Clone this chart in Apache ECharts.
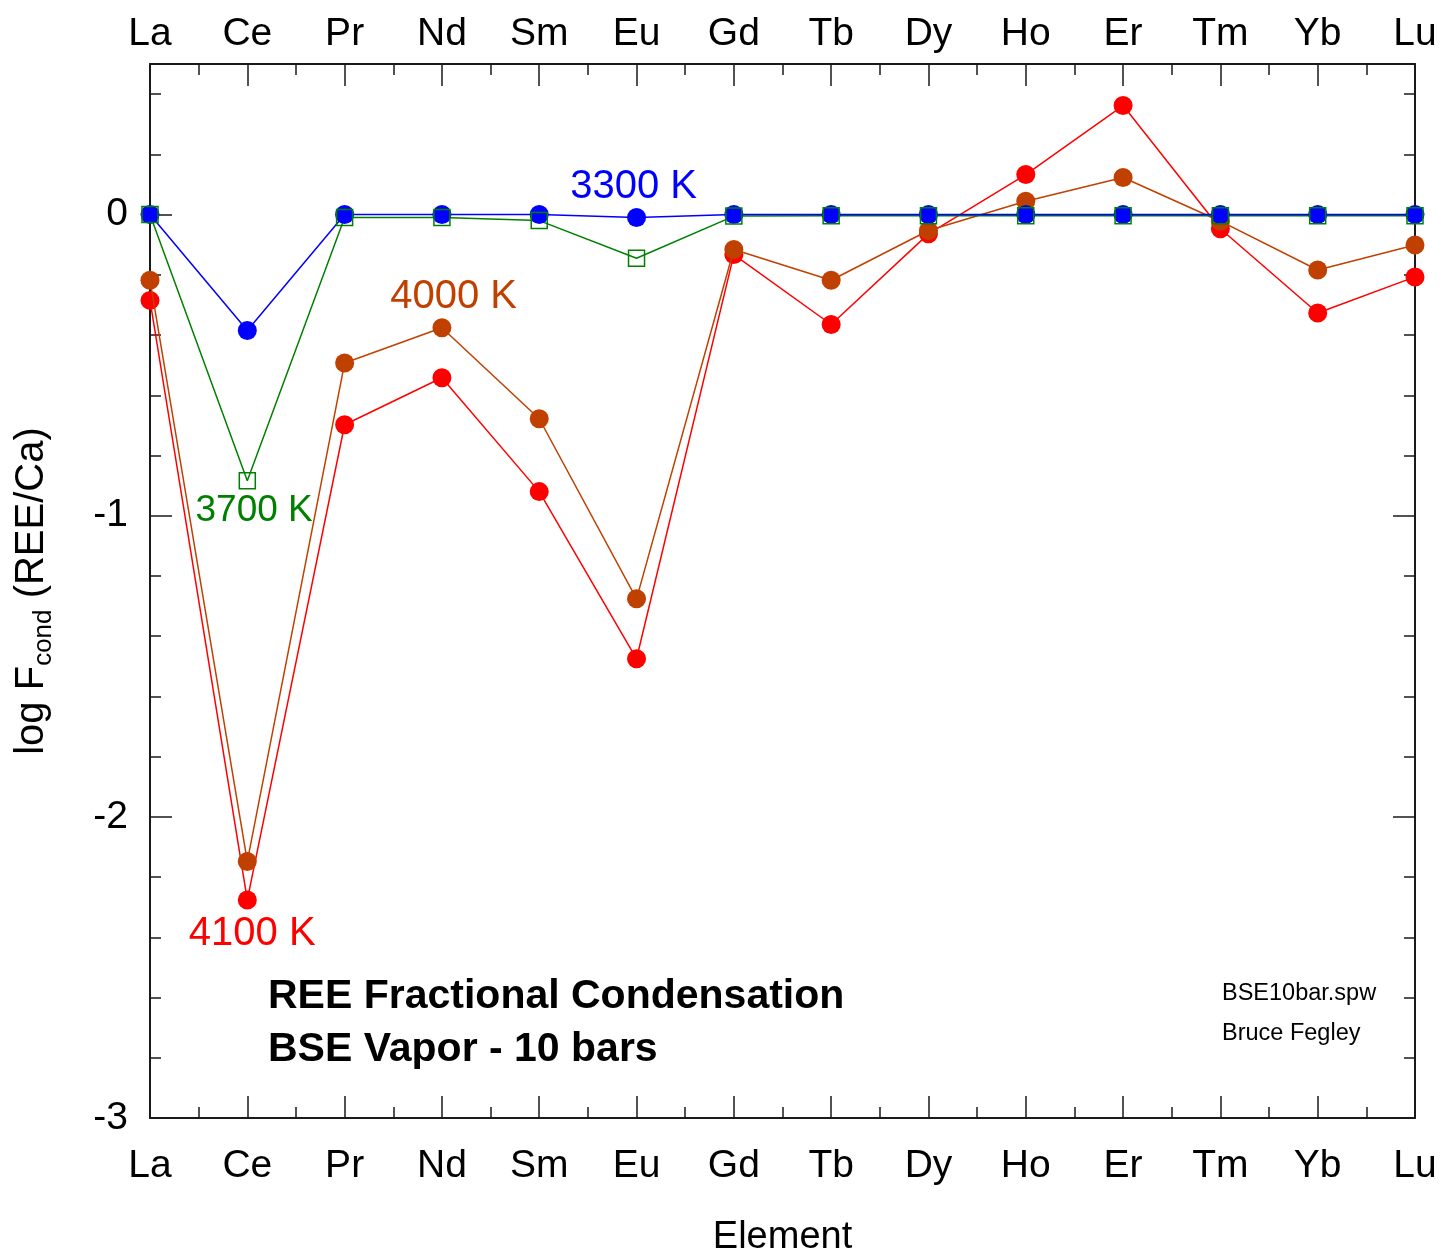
<!DOCTYPE html>
<html>
<head>
<meta charset="utf-8">
<title>REE Fractional Condensation</title>
<script src="https://cdn.jsdelivr.net/npm/echarts@6/dist/echarts.min.js"></script>
<style>
  html, body { margin: 0; padding: 0; background: #fff; }
  #chart { width: 1444px; height: 1254px; }
</style>
</head>
<body>
<div id="chart"></div>
<script>
// Rare earth elements along the x axis
const ELEMENTS = ['La', 'Ce', 'Pr', 'Nd', 'Sm', 'Eu', 'Gd', 'Tb', 'Dy', 'Ho', 'Er', 'Tm', 'Yb', 'Lu'];

// log F_cond (REE/Ca) at each temperature
const T3300 = [0, -0.385, 0, 0, 0, -0.01, 0, 0, 0, 0, 0, 0, 0, 0];
const T3700 = [0, -0.884, -0.01, -0.01, -0.02, -0.145, -0.005, -0.004, -0.004, -0.004, -0.004, -0.004, -0.004, -0.004];
const T4000 = [-0.218, -2.148, -0.493, -0.376, -0.678, -1.276, -0.116, -0.218, -0.053, 0.044, 0.123, -0.022, -0.184, -0.101];
const T4100 = [-0.285, -2.276, -0.698, -0.542, -0.920, -1.475, -0.133, -0.365, -0.064, 0.133, 0.362, -0.047, -0.327, -0.207];

// Y axis range and tick labels
const Y_MIN = -3, Y_MAX = 0.5;
const Y_TICKS = [-3, -2, -1, 0];

// Temperature labels: text, anchor in data space, colour, font size
const TEMP_LABELS = [
  { text: '3300 K', at: [4.97, 0.093], color: '#0000ff', size: 40 },
  { text: '3700 K', at: [1.07, -0.983], color: '#008000', size: 37 },
  { text: '4000 K', at: [3.12, -0.272], color: '#c04000', size: 40 },
  { text: '4100 K', at: [1.05, -2.389], color: '#ff0000', size: 40 }
];

const FONT = '"Liberation Sans", Arial, Helvetica, sans-serif';
const AXIS_COLOR = '#1a1a1a';

const pairs = arr => arr.map((v, i) => [i, v]);

const chart = echarts.init(document.getElementById('chart'), null, { renderer: 'canvas' });

function xAxis(position, margin) {
  return {
    type: 'value', position: position,
    min: 0, max: ELEMENTS.length - 1, interval: 1,
    axisLine: { show: true, onZero: false, lineStyle: { color: AXIS_COLOR, width: 2 } },
    axisTick: { show: true, inside: true, length: 22, lineStyle: { color: AXIS_COLOR, width: 1.5 } },
    minorTick: { show: true, splitNumber: 2, length: 11, lineStyle: { color: AXIS_COLOR, width: 1.5 } },
    splitLine: { show: false },
    axisLabel: {
      show: true, margin: margin, fontSize: 39, color: '#000', fontFamily: FONT,
      formatter: v => (Number.isInteger(v) ? ELEMENTS[v] : '')
    }
  };
}

function yAxis(position, major, labels) {
  return {
    type: 'value', position: position,
    min: Y_MIN, max: Y_MAX, interval: major ? 1 : 0.2,
    axisLine: { show: major, onZero: false, lineStyle: { color: AXIS_COLOR, width: 2 } },
    axisTick: { show: true, inside: true, length: major ? 22 : 11, lineStyle: { color: AXIS_COLOR, width: 1.5 } },
    splitLine: { show: false },
    axisLabel: {
      show: labels, margin: 22, fontSize: 39, color: '#000', fontFamily: FONT,
      formatter: v => (Y_TICKS.indexOf(v) >= 0 ? String(v) : '')
    }
  };
}

const xBottom = xAxis('bottom', 29);
xBottom.name = 'Element';
xBottom.nameLocation = 'middle';
xBottom.nameGap = 101;
xBottom.nameTextStyle = { fontSize: 38, color: '#000', fontFamily: FONT };

const yLeft = yAxis('left', true, true);
yLeft.name = 'log F{sub|cond} (REE/Ca)';
yLeft.nameLocation = 'middle';
yLeft.nameRotate = 90;
yLeft.nameGap = 93;
yLeft.nameTextStyle = {
  fontSize: 40, color: '#000', fontFamily: FONT,
  rich: {
    sub: { fontSize: 26, fontFamily: FONT, color: '#000', padding: [24, 0, 0, 0], verticalAlign: 'bottom' }
  }
};

function lineSeries(name, data, color, z) {
  return {
    name: name, type: 'line', data: pairs(data), z: z,
    symbol: 'circle', symbolSize: 19, showAllSymbol: true,
    lineStyle: { color: color, width: 1.5 },
    itemStyle: { color: color, borderWidth: 0 },
    emphasis: { disabled: true },
    animation: false
  };
}

chart.setOption({
  animation: false,
  grid: { left: 150, right: 29, top: 64, bottom: 136, containLabel: false, outerBoundsMode: 'none' },
  xAxis: [xBottom, xAxis('top', 10)],
  yAxis: [yLeft, yAxis('left', false, false), yAxis('right', true, false), yAxis('right', false, false)],
  series: [
    lineSeries('4100 K', T4100, '#ff0000', 2),
    lineSeries('4000 K', T4000, '#c04000', 3),
    // 3700 K connecting line sits under the 3300 K line
    {
      name: '3700 K', type: 'line', data: pairs(T3700), z: 3.5,
      showSymbol: false, lineStyle: { color: '#008000', width: 1.5 },
      emphasis: { disabled: true }, animation: false
    },
    lineSeries('3300 K', T3300, '#0000ff', 4),
    // 3700 K hollow square markers drawn on top
    {
      name: '3700 K', type: 'scatter', data: pairs(T3700), z: 5,
      symbol: 'rect', symbolSize: 16,
      itemStyle: { color: 'rgba(0,0,0,0)', opacity: 1, borderColor: '#008000', borderWidth: 1.5 },
      emphasis: { disabled: true }, animation: false
    }
  ]
});

// Temperature labels and notes placed after the axes are laid out
const texts = TEMP_LABELS.map(l => {
  const p = chart.convertToPixel({ gridIndex: 0 }, l.at);
  return {
    type: 'text', x: p[0], y: p[1], z: 10,
    style: { text: l.text, fill: l.color, font: l.size + 'px ' + FONT, textAlign: 'center', textVerticalAlign: 'middle' }
  };
});

texts.push(
  { type: 'text', left: 268, top: 976, z: 10,
    style: { text: 'REE Fractional Condensation', fill: '#000', font: 'bold 41px ' + FONT } },
  { type: 'text', left: 268, top: 1029, z: 10,
    style: { text: 'BSE Vapor - 10 bars', fill: '#000', font: 'bold 41px ' + FONT } },
  { type: 'text', left: 1222, top: 982, z: 10,
    style: { text: 'BSE10bar.spw', fill: '#000', font: '23.5px ' + FONT } },
  { type: 'text', left: 1222, top: 1022, z: 10,
    style: { text: 'Bruce Fegley', fill: '#000', font: '23.5px ' + FONT } }
);

chart.setOption({ graphic: texts });
</script>
</body>
</html>
